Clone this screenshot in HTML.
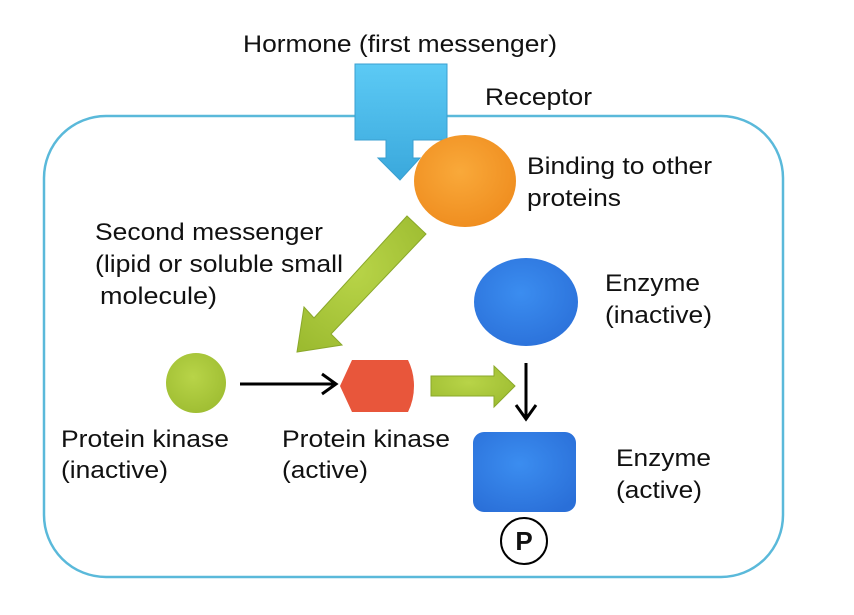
<!DOCTYPE html>
<html><head><meta charset="utf-8"><style>
html,body{margin:0;padding:0;background:#fff}
svg text{font-family:"Liberation Sans",Arial,sans-serif;font-size:24.5px;fill:#111}
</style></head><body>
<svg width="854" height="610" viewBox="0 0 854 610" xmlns="http://www.w3.org/2000/svg">
<defs>
<linearGradient id="blue1" x1="0" y1="0" x2="0" y2="1"><stop offset="0" stop-color="#5ccaf5"/><stop offset="1" stop-color="#3aa8dc"/></linearGradient>
<radialGradient id="org" cx="0.45" cy="0.4" r="0.7"><stop offset="0" stop-color="#f9a93a"/><stop offset="1" stop-color="#ee8a1c"/></radialGradient>
<radialGradient id="bl" cx="0.45" cy="0.4" r="0.7"><stop offset="0" stop-color="#3b8df0"/><stop offset="1" stop-color="#2a6fd8"/></radialGradient>
<radialGradient id="gr" cx="0.45" cy="0.4" r="0.7"><stop offset="0" stop-color="#b8d448"/><stop offset="1" stop-color="#9cbb30"/></radialGradient>
</defs>
<rect x="44" y="116" width="739" height="461" rx="62" ry="62" fill="none" stroke="#5ab9da" stroke-width="2.5"/>
<path d="M355 64 H447 V140 H413 V158 H420 L400 180 L378 158 H386 V140 H355 Z" fill="url(#blue1)" stroke="#3a9fd0" stroke-width="1"/>
<ellipse cx="465" cy="181" rx="51" ry="46" fill="url(#org)"/>
<path d="M407 216 L426 234 L331 334 L342 345 L297 352 L304 307 L314 318 Z" fill="url(#gr)" stroke="#8aa82a" stroke-width="1"/>
<ellipse cx="526" cy="302" rx="52" ry="44" fill="url(#bl)"/>
<circle cx="196" cy="383" r="30" fill="url(#gr)"/>
<line x1="240" y1="384" x2="334" y2="384" stroke="#000" stroke-width="3"/>
<path d="M322 374 L336 384 L322 394" fill="none" stroke="#000" stroke-width="3"/>
<path d="M352 360 H408 Q414 372 414 386 Q414 400 408 412 H352 L340 386 Z" fill="#e8563b"/>
<path d="M431 376 H494 V366 L515 386 L494 407 V396 H431 Z" fill="url(#gr)" stroke="#8aa82a" stroke-width="1"/>
<line x1="526" y1="363" x2="526" y2="418" stroke="#000" stroke-width="3"/>
<path d="M516 405 L526 419 L536 405" fill="none" stroke="#000" stroke-width="3"/>
<rect x="473" y="432" width="103" height="80" rx="11" fill="url(#bl)"/>
<circle cx="524" cy="541" r="23" fill="#fff" stroke="#000" stroke-width="2"/>
<text x="524" y="550" text-anchor="middle" style="font-size:26px;font-weight:bold">P</text>
<text x="243" y="52" textLength="314" lengthAdjust="spacingAndGlyphs">Hormone (first messenger)</text>
<text x="485" y="105" textLength="107" lengthAdjust="spacingAndGlyphs">Receptor</text>
<text x="527" y="174" textLength="185" lengthAdjust="spacingAndGlyphs">Binding to other</text>
<text x="527" y="206" textLength="94" lengthAdjust="spacingAndGlyphs">proteins</text>
<text x="95" y="240" textLength="228" lengthAdjust="spacingAndGlyphs">Second messenger</text>
<text x="95" y="272" textLength="248" lengthAdjust="spacingAndGlyphs">(lipid or soluble small</text>
<text x="100" y="304" textLength="117" lengthAdjust="spacingAndGlyphs">molecule)</text>
<text x="605" y="291" textLength="95" lengthAdjust="spacingAndGlyphs">Enzyme</text>
<text x="605" y="323" textLength="107" lengthAdjust="spacingAndGlyphs">(inactive)</text>
<text x="61" y="447" textLength="168" lengthAdjust="spacingAndGlyphs">Protein kinase</text>
<text x="61" y="478" textLength="107" lengthAdjust="spacingAndGlyphs">(inactive)</text>
<text x="282" y="447" textLength="168" lengthAdjust="spacingAndGlyphs">Protein kinase</text>
<text x="282" y="478" textLength="86" lengthAdjust="spacingAndGlyphs">(active)</text>
<text x="616" y="466" textLength="95" lengthAdjust="spacingAndGlyphs">Enzyme</text>
<text x="616" y="498" textLength="86" lengthAdjust="spacingAndGlyphs">(active)</text>
</svg>
</body></html>
